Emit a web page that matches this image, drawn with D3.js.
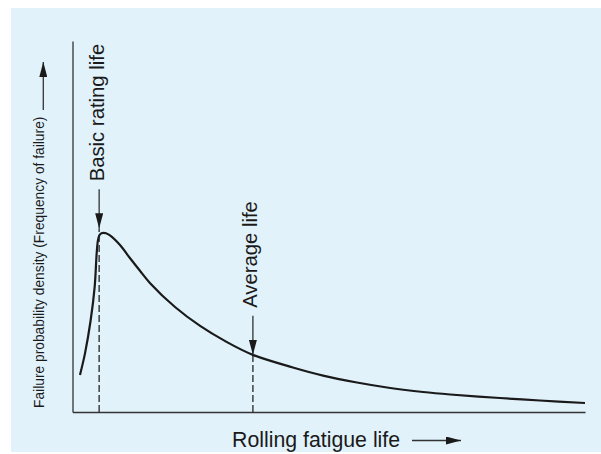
<!DOCTYPE html>
<html>
<head>
<meta charset="utf-8">
<script src="https://cdn.jsdelivr.net/npm/d3@7"></script>
<style>
  body { margin: 0; background: #fff; }
  svg text { font-family: "Liberation Sans", Arial, Helvetica, sans-serif; fill: #1a1a1a; }
</style>
</head>
<body>
<svg id="chart" width="601" height="454"></svg>
<script>
"use strict";

// curve (life in % of the axis, density in % of axis height)
const lifeValues    = [1.46, 2.44, 3.55, 4.33, 4.72, 4.98, 5.27, 5.66, 6.05, 6.54, 7.32, 9.27, 11.2, 13.2, 15.1, 20.0, 24.9, 29.8, 35.2, 43.0, 48.9, 55.5, 62.0, 68.4, 73.7, 83.4, 91.2, 100];
const densityValues = [10.0, 15.8, 24.8, 33.8, 42.8, 46.4, 47.7, 48.2, 48.3, 48.2, 47.6, 45.0, 41.5, 38.0, 34.8, 28.3, 23.2, 19.1, 15.4, 12.0, 9.8, 7.95, 6.47, 5.39, 4.72, 3.77, 3.10, 2.43];

const markerLabels  = ["Basic rating life", "Average life"];
const markerLife    = [5.2, 35.2];
const markerDensity = [49.5, 15.4];

const xLabel = "Rolling fatigue life";
const yLabel = "Failure probability density (Frequency of failure)";

const svg = d3.select("#chart");

svg.append("rect")
    .attr("x", 11).attr("y", 8)
    .attr("width", 590).attr("height", 444)
    .attr("fill", "#e1f2fb");

const defs = svg.append("defs");
defs.append("marker")
    .attr("id", "head")
    .attr("viewBox", "0 0 15 8")
    .attr("refX", 15).attr("refY", 4)
    .attr("markerWidth", 15).attr("markerHeight", 8)
    .attr("markerUnits", "userSpaceOnUse")
    .attr("orient", "auto")
    .append("path")
    .attr("d", "M0,0L15,4L0,8Z")
    .attr("fill", "#1a1a1a");

const x = d3.scaleLinear().domain([0, 100]).range([72.5, 585]);
const y = d3.scaleLinear().domain([0, 100]).range([412, 41]);

// axes: plain lines, no ticks
svg.append("g")
    .attr("transform", "translate(0," + y(0) + ")")
    .call(d3.axisBottom(x).tickValues([]).tickSizeOuter(0));
svg.append("g")
    .attr("transform", "translate(" + x(0) + ",0)")
    .call(d3.axisLeft(y).tickValues([]).tickSizeOuter(0));
svg.selectAll(".domain")
    .attr("stroke", "#333")
    .attr("stroke-width", 1.3);

// dashed drops
svg.selectAll("line.drop")
    .data(markerLife)
    .enter()
    .append("line")
    .attr("class", "drop")
    .attr("x1", (d) => x(d)).attr("x2", (d) => x(d))
    .attr("y1", y(0))
    .attr("y2", (d, i) => y(markerDensity[i]))
    .attr("stroke", "#333")
    .attr("stroke-width", 1.4)
    .attr("stroke-dasharray", "7,3");

const line = d3.line()
    .x((d, i) => x(lifeValues[i]))
    .y((d) => y(d))
    .curve(d3.curveCatmullRom.alpha(0.5));

svg.append("path")
    .datum(densityValues)
    .attr("d", line)
    .attr("fill", "none")
    .attr("stroke", "#1a1a1a")
    .attr("stroke-width", 2.2);

// marker arrows and labels
const marks = svg.selectAll("g.mark")
    .data(markerLife)
    .enter()
    .append("g")
    .attr("class", "mark")
    .attr("transform", (d, i) => "translate(" + x(d) + "," + y(markerDensity[i]) + ")");

marks.append("line")
    .attr("x1", 0).attr("x2", 0)
    .attr("y1", -39).attr("y2", 0)
    .attr("stroke", "#333")
    .attr("stroke-width", 1.3)
    .attr("marker-end", "url(#head)");

marks.append("text")
    .attr("transform", "translate(4.5,-47) rotate(-90)")
    .attr("font-size", 20.3)
    .text((d, i) => markerLabels[i]);

// axis titles
svg.append("text")
    .attr("x", 232).attr("y", 447)
    .attr("font-size", 21.3)
    .text(xLabel);
svg.append("line")
    .attr("x1", 412).attr("x2", 461)
    .attr("y1", 440.5).attr("y2", 440.5)
    .attr("stroke", "#333")
    .attr("stroke-width", 1.3)
    .attr("marker-end", "url(#head)");

svg.append("text")
    .attr("transform", "translate(43.5,408) rotate(-90)")
    .attr("font-size", 13.8)
    .text(yLabel);
svg.append("line")
    .attr("x1", 43.3).attr("x2", 43.3)
    .attr("y1", 110).attr("y2", 62)
    .attr("stroke", "#333")
    .attr("stroke-width", 1.3)
    .attr("marker-end", "url(#head)");
</script>
</body>
</html>
